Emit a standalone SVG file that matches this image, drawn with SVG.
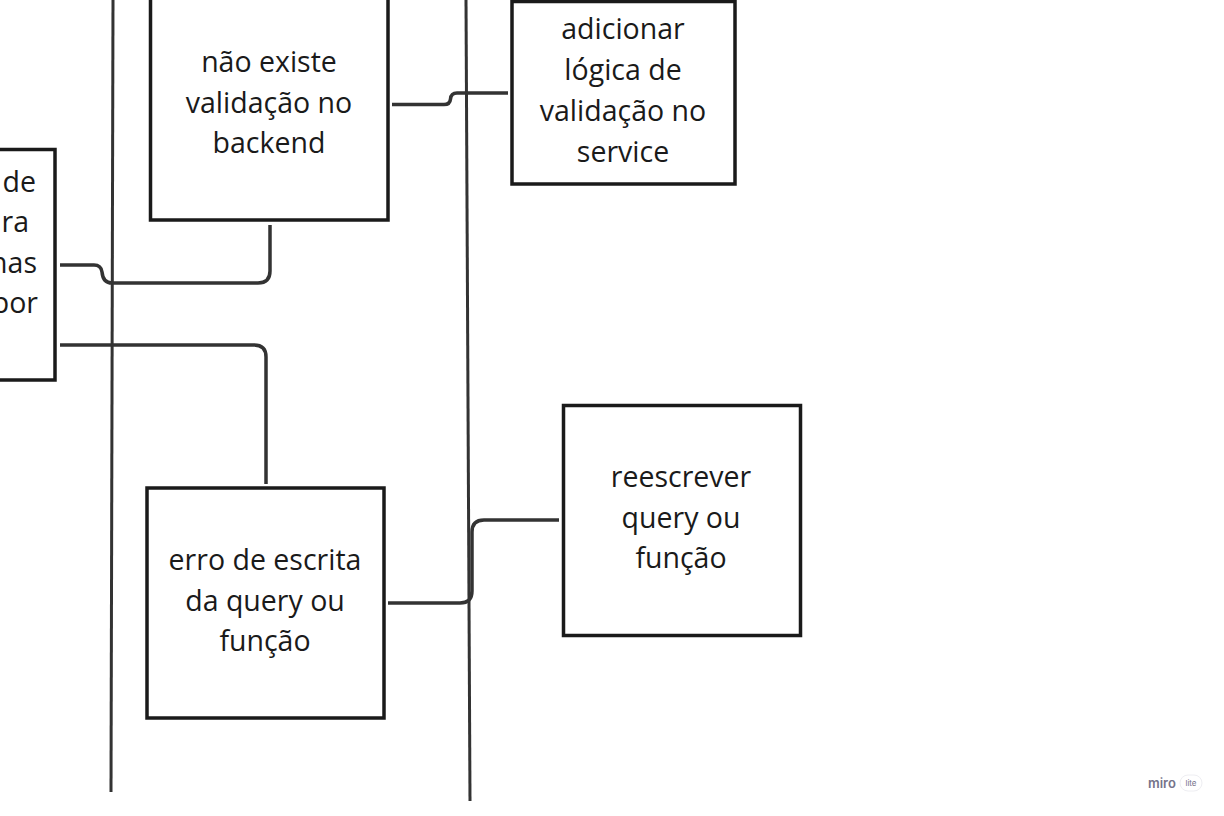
<svg xmlns="http://www.w3.org/2000/svg" width="1224" height="816" viewBox="0 0 1224 816">
<style>
.box{fill:#fff;stroke:#1a1a1a;stroke-width:3.5}
.t{font-family:"Open Sans","Noto Sans",sans-serif;font-size:28.5px;fill:#1a1a1a;text-anchor:middle}
.te{font-family:"Open Sans","Noto Sans",sans-serif;font-size:28.5px;fill:#1a1a1a;text-anchor:end}
.c{fill:none;stroke:#333;stroke-width:3.5;stroke-linecap:butt}
.v{fill:none;stroke:#333;stroke-width:3}
</style>
<rect width="1224" height="816" fill="#fff"/>
<g id="lanes">
<line class="v" x1="113" y1="0" x2="111" y2="792"/>
<line class="v" x1="466" y1="0" x2="470" y2="801"/>
</g>
<g id="node-left">
<rect class="box" x="-183" y="149.5" width="238" height="230.5"/>
<text class="te" x="36" y="192">de</text>
<text class="te" x="29" y="232">ra</text>
<text class="te" x="37" y="273">nas</text>
<text class="te" x="38" y="313">por</text>
</g>
<g id="node-validacao">
<rect class="box" x="150.5" y="-11" width="237.5" height="231"/>
<text class="t" x="269" y="72">não existe</text>
<text class="t" x="269" y="113">validação no</text>
<text class="t" x="269" y="153">backend</text>
</g>
<g id="node-adicionar">
<rect class="box" x="512" y="1.5" width="223" height="182.5"/>
<text class="t" x="623" y="39">adicionar</text>
<text class="t" x="623" y="80">lógica de</text>
<text class="t" x="623" y="121">validação no</text>
<text class="t" x="623" y="162">service</text>
</g>
<g id="node-erro">
<rect class="box" x="147" y="488" width="237" height="230"/>
<text class="t" x="265" y="570">erro de escrita</text>
<text class="t" x="265" y="611">da query ou</text>
<text class="t" x="265" y="651">função</text>
</g>
<g id="node-reescrever">
<rect class="box" x="563.5" y="405.5" width="237" height="230"/>
<text class="t" x="681" y="487">reescrever</text>
<text class="t" x="681" y="528">query ou</text>
<text class="t" x="681" y="568">função</text>
</g>
<g id="connectors">
<path class="c" d="M392 104.5 H444 Q450 104.5 450.5 99 Q451 93 457 93 H508"/>
<path class="c" d="M60 265 H94 Q101 265 102 272 Q103 283 112 283 H258 Q270 283 270 271 V225"/>
<path class="c" d="M60 345 H254 Q266 345 266 357 V484"/>
<path class="c" d="M388 603 H460 Q472 603 472 591 V532 Q472 520 484 520 H559"/>
</g>
<g id="watermark">
<text x="1148" y="788" font-family="Inter,'Noto Sans',sans-serif" font-size="13" font-weight="600" fill="#75738a">miro</text>
<rect x="1180" y="775" width="22" height="16" rx="8" fill="#fff" stroke="#eeeef2" stroke-width="1"/>
<text x="1191" y="786" font-family="Inter,'Noto Sans',sans-serif" font-size="8" fill="#75738a" text-anchor="middle">lite</text>
</g>
</svg>
